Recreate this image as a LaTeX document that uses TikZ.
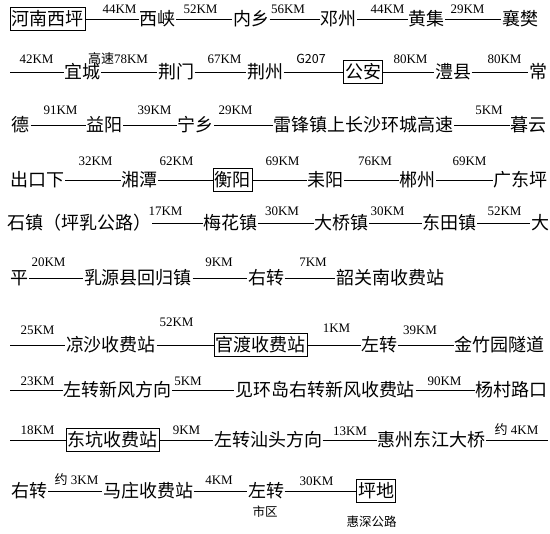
\documentclass[tikz,border=0pt]{standalone}
\usepackage{fontspec}
\setmainfont{Liberation Serif}
\newfontfamily\cjk{Noto Sans CJK SC}
\usetikzlibrary{positioning}

\begin{document}
\begin{tikzpicture}[
    x=1pt, y=-1pt,
    place/.style={
        font=\cjk\fontsize{18}{18}\selectfont,
        inner xsep=0.5pt,
        inner ysep=3pt
    },
    stopbox/.style={
        place,
        draw=black, line width=0.8pt,
        inner xsep=1.5pt
    },
    dist/.style={
        font=\fontsize{13}{13}\selectfont,
        inner sep=0pt
    },
    note/.style={
        font=\cjk\fontsize{12.5}{12.5}\selectfont,
        inner sep=0pt
    },
    road/.style={
        line width=0.8pt
    }
]
\useasboundingbox (0,0) rectangle (550,534);

% row 1
\node (hnxp) [stopbox] at (47.5,19) {河南西坪};
\node (xx) [place] at (157.5,19) {西峡};
\node (nx) [place] at (251,19) {内乡};
\node (dz) [place] at (338.5,19) {邓州};
\node (hj) [place] at (426.5,19) {黄集};
\node (xf) [place] at (520,19) {襄樊};
\node [dist] at (119.5,9) {44KM};
\node [dist] at (200.5,9) {52KM};
\node [dist] at (288,9) {56KM};
\node [dist] at (387.5,9) {44KM};
\node [dist] at (467.5,9) {29KM};
\draw [road] (hnxp) -- (xx);
\draw [road] (xx) -- (nx);
\draw [road] (nx) -- (dz);
\draw [road] (dz) -- (hj);
\draw [road] (hj) -- (xf);

% row 2
\coordinate (r2) at (10,72);
\node (yc) [place] at (82.5,72) {宜城};
\node (jm) [place] at (176,72) {荆门};
\node (jz) [place] at (265,72) {荆州};
\node (ga) [stopbox] at (363,72) {公安};
\node (lx) [place] at (453,72) {澧县};
\node (chang) [place] at (538,72) {常};
\node [dist] at (36.5,59) {42KM};
\node [dist] at (118,59) {{\cjk 高速}78KM};
\node [dist] at (224.5,59) {67KM};
\node [note] at (311,59) {G207};
\node [dist] at (410.5,59) {80KM};
\node [dist] at (504.5,59) {80KM};
\draw [road] (r2) -- (yc);
\draw [road] (yc) -- (jm);
\draw [road] (jm) -- (jz);
\draw [road] (jz) -- (ga);
\draw [road] (ga) -- (lx);
\draw [road] (lx) -- (chang);

% row 3
\node (de) [place] at (21,125) {德};
\node (yy) [place] at (104.5,125) {益阳};
\node (nxiang) [place] at (195.5,125) {宁乡};
\node (lfz) [place] at (363.5,125) {雷锋镇上长沙环城高速};
\node (my) [place] at (528.5,125) {暮云};
\node [dist] at (60.5,110) {91KM};
\node [dist] at (154.5,110) {39KM};
\node [dist] at (235.5,110) {29KM};
\node [dist] at (489,110) {5KM};
\draw [road] (de) -- (yy);
\draw [road] (yy) -- (nxiang);
\draw [road] (nxiang) -- (lfz);
\draw [road] (lfz) -- (my);

% row 4
\node (ckx) [place] at (37.5,180) {出口下};
\node (xt) [place] at (139.5,180) {湘潭};
\node (hy) [stopbox] at (232.5,180) {衡阳};
\node (ly) [place] at (325.5,180) {耒阳};
\node (cz) [place] at (417.5,180) {郴州};
\node (gdp) [place] at (520.5,180) {广东坪};
\node [dist] at (95.5,161) {32KM};
\node [dist] at (176.5,161) {62KM};
\node [dist] at (282.5,161) {69KM};
\node [dist] at (375,161) {76KM};
\node [dist] at (469.5,161) {69KM};
\draw [road] (ckx) -- (xt);
\draw [road] (xt) -- (hy);
\draw [road] (hy) -- (ly);
\draw [road] (ly) -- (cz);
\draw [road] (cz) -- (gdp);

% row 5
\node (sz) [place] at (79.5,223) {石镇（坪乳公路）};
\node (mhz) [place] at (230.5,223) {梅花镇};
\node (dqz) [place] at (341.5,223) {大桥镇};
\node (dtz) [place] at (449.5,223) {东田镇};
\node (da) [place] at (540,223) {大};
\node [dist] at (165.5,211) {17KM};
\node [dist] at (282,211) {30KM};
\node [dist] at (387.5,211) {30KM};
\node [dist] at (504.5,211) {52KM};
\draw [road] (sz) -- (mhz);
\draw [road] (mhz) -- (dqz);
\draw [road] (dqz) -- (dtz);
\draw [road] (dtz) -- (da);

% row 6
\node (ping) [place] at (19.5,278) {平};
\node (rhz) [place] at (138,278) {乳源县回归镇};
\node (yz) [place] at (266,278) {右转};
\node (sgn) [place] at (390,278) {韶关南收费站};
\node [dist] at (48.5,262) {20KM};
\node [dist] at (219,262) {9KM};
\node [dist] at (313,262) {7KM};
\draw [road] (ping) -- (rhz);
\draw [road] (rhz) -- (yz);
\draw [road] (yz) -- (sgn);

% row 7
\coordinate (r7) at (10,345);
\node (lsz) [place] at (111,345) {凉沙收费站};
\node (gdz) [stopbox] at (260.5,345) {官渡收费站};
\node (zz) [place] at (379.5,345) {左转};
\node (jzy) [place] at (499.5,345) {金竹园隧道};
\node [dist] at (37.5,330) {25KM};
\node [dist] at (176.5,322) {52KM};
\node [dist] at (336.5,328) {1KM};
\node [dist] at (420,330) {39KM};
\draw [road] (r7) -- (lsz);
\draw [road] (lsz) -- (gdz);
\draw [road] (gdz) -- (zz);
\draw [road] (zz) -- (jzy);

% row 8
\coordinate (r8) at (10,390);
\node (zzxf) [place] at (117.5,390) {左转新风方向};
\node (jhd) [place] at (325,390) {见环岛右转新风收费站};
\node (yclk) [place] at (511.5,390) {杨村路口};
\node [dist] at (37.5,381) {23KM};
\node [dist] at (188,381) {5KM};
\node [dist] at (444.5,381) {90KM};
\draw [road] (r8) -- (zzxf);
\draw [road] (zzxf) -- (jhd);
\draw [road] (jhd) -- (yclk);

% row 9
\coordinate (r9) at (10,440);
\node (dkz) [stopbox] at (112.5,440) {东坑收费站};
\node (zzst) [place] at (268,440) {左转汕头方向};
\node (hzdj) [place] at (431.5,440) {惠州东江大桥};
\coordinate (r9e) at (548,440);
\node [dist] at (37.5,430) {18KM};
\node [dist] at (186.5,430) {9KM};
\node [dist] at (350,431) {13KM};
\node [dist] at (516.5,430) {{\cjk 约} 4KM};
\draw [road] (r9) -- (dkz);
\draw [road] (dkz) -- (zzst);
\draw [road] (zzst) -- (hzdj);
\draw [road] (hzdj) -- (r9e);

% row 10
\node (yz2) [place] at (29.5,491) {右转};
\node (mzz) [place] at (148,491) {马庄收费站};
\node (zz2) [place] at (266,491) {左转};
\node (pd) [stopbox] at (376,491) {坪地};
\node [note] at (265,512) {市区};
\node [note] at (371.5,522) {惠深公路};
\node [dist] at (76.5,480) {{\cjk 约} 3KM};
\node [dist] at (219,480) {4KM};
\node [dist] at (316.5,481) {30KM};
\draw [road] (yz2) -- (mzz);
\draw [road] (mzz) -- (zz2);
\draw [road] (zz2) -- (pd);

\end{tikzpicture}
\end{document}
